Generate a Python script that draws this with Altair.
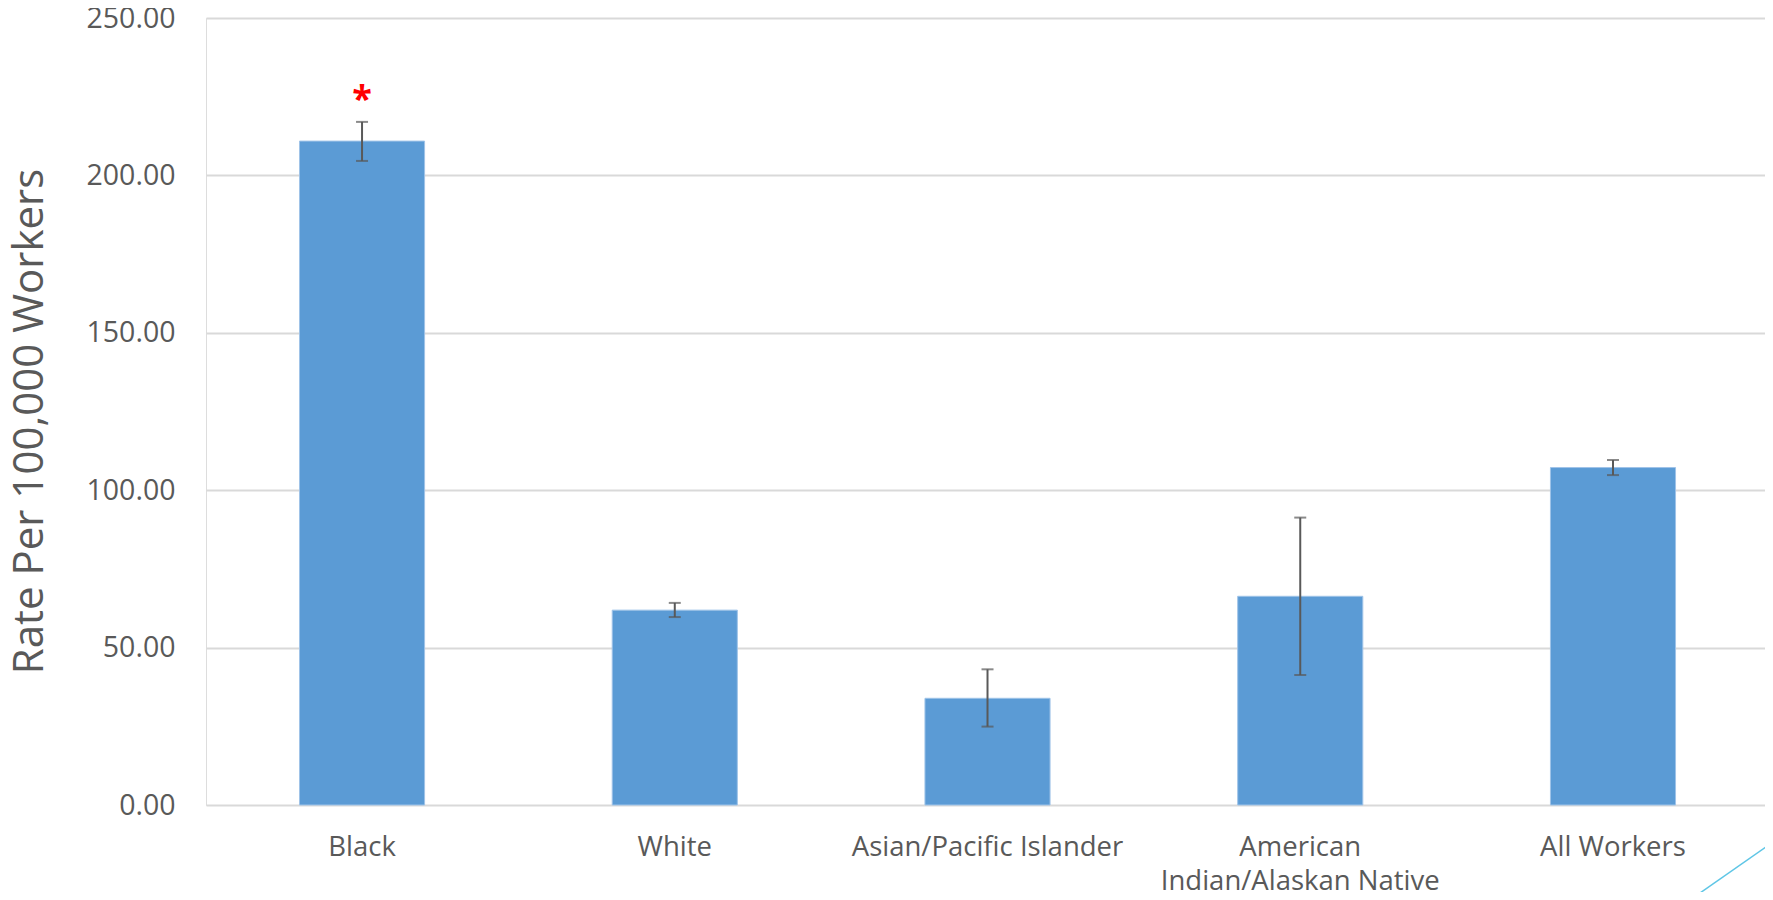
import altair as alt
import pandas as pd

categories = ["Black", "White", "Asian/Pacific Islander",
              "American Indian/Alaskan Native", "All Workers"]
rates = [210.9, 61.9, 33.9, 66.3, 107.2]
lower = [204.6, 59.7, 24.9, 41.3, 104.8]
upper = [217.0, 64.2, 43.1, 91.3, 109.6]
marks = ["*", "", "", "", ""]

df = pd.DataFrame({"cat": categories, "rate": rates, "lo": lower,
                   "hi": upper, "sig": marks})

FONT = "Open Sans"
GREY = "#595959"

x = alt.X("cat:N", sort=categories,
          scale=alt.Scale(paddingInner=0.6, paddingOuter=0.2925, align=0.511),
          axis=alt.Axis(title=None, labelAngle=0, labelFont=FONT, labelFontSize=27.5,
                        labelColor=GREY, labelPadding=28, ticks=False, domain=False,
                        labelLineHeight=34, labelBaseline="top", labelLimit=0,
                        labelExpr="datum.label == 'American Indian/Alaskan Native' ? ['American', 'Indian/Alaskan Native'] : datum.label"))
yscale = alt.Scale(domain=[0, 250], nice=False)
yaxis = alt.Axis(title="Rate Per 100,000 Workers", values=[0, 50, 100, 150, 200, 250],
                 format=".2f", labelFont=FONT, labelFontSize=28.5, labelColor=GREY,
                 labelPadding=31, ticks=False, domain=False,
                 gridColor="#d9d9d9", gridWidth=2,
                 titleFont=FONT, titleFontSize=42, titleFontWeight="normal",
                 titleColor=GREY, titleX=-177, titleY=403, titleAngle=-90,
                 titleAlign="center", titleBaseline="middle")

base = alt.Chart(df)

bars = base.mark_bar(color="#5b9bd5", stroke="#9fc3e8", strokeWidth=1).encode(
    x=x, y=alt.Y("rate:Q", scale=yscale, axis=yaxis))

err = base.mark_rule(color=GREY, strokeWidth=2).encode(
    x=alt.X("cat:N", sort=categories), y="lo:Q", y2="hi:Q")

caps_hi = base.mark_tick(color=GREY, size=12, thickness=2).encode(
    x=alt.X("cat:N", sort=categories), y="hi:Q")
caps_lo = base.mark_tick(color=GREY, size=12, thickness=2).encode(
    x=alt.X("cat:N", sort=categories), y="lo:Q")

star = base.mark_text(color="#ff0000", font=FONT, fontSize=36, fontWeight="bold",
                      baseline="alphabetic", dy=-11).encode(
    x=alt.X("cat:N", sort=categories), y="hi:Q", text="sig:N")

deco = alt.Chart(pd.DataFrame({"d": [0]})).mark_rule(
    color="#5fc6e6", strokeWidth=1.5).encode(
    x=alt.value(1484), x2=alt.value(1567), y=alt.value(882), y2=alt.value(824))

chart = alt.layer(bars, err, caps_hi, caps_lo, star, deco).properties(
    width=1559, height=787,
    autosize=alt.AutoSizeParams(type="none"),
    padding={"left": 198, "top": 10, "right": 0, "bottom": 87},
).configure_view(stroke=None).configure(background="white")

chart.save("out.html", embed_options={"renderer": "svg", "actions": False})
